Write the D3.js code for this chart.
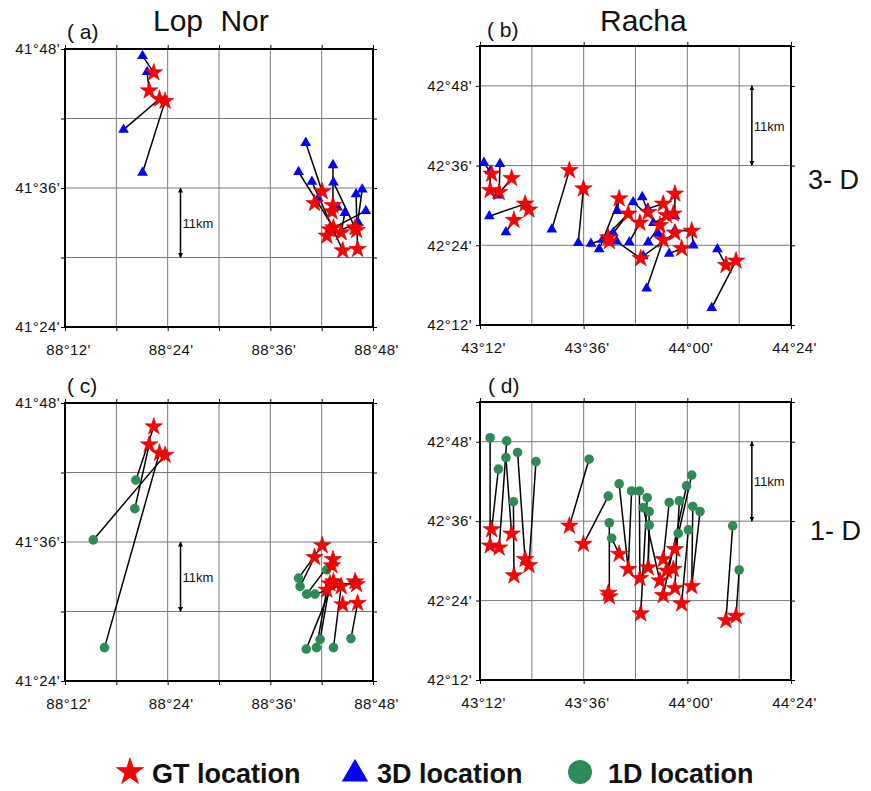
<!DOCTYPE html>
<html>
<head>
<meta charset="utf-8">
<script src="https://cdn.jsdelivr.net/npm/d3@7"></script>
<style>
  body { margin: 0; background: #fff; }
  svg { display: block; font-family: "Liberation Sans", Arial, sans-serif; }
</style>
</head>
<body>
<svg id="chart" width="871" height="791"></svg>
<script>
// ---------- Lop Nor (lon, lat in decimal degrees) ----------
const lopNorGT = [
  [88.373, 41.766], [88.364, 41.740], [88.384, 41.728], [88.395, 41.725],
  [88.701, 41.595], [88.686, 41.578], [88.722, 41.575], [88.720, 41.566],
  [88.723, 41.543], [88.710, 41.531], [88.738, 41.536], [88.765, 41.543],
  [88.768, 41.539], [88.741, 41.510], [88.770, 41.512], [88.716, 41.540]
];
// [lon, lat, index of matching GT event]
const lopNor3D = [
  [88.351, 41.790, 0], [88.360, 41.767, 1], [88.314, 41.684, 2], [88.351, 41.622, 3],
  [88.669, 41.665, 4], [88.722, 41.633, 6], [88.655, 41.623, 8], [88.681, 41.609, 13],
  [88.723, 41.608, 11], [88.693, 41.585, 5], [88.779, 41.598, 12], [88.767, 41.591, 14],
  [88.731, 41.572, 7], [88.745, 41.564, 10], [88.786, 41.567, 15], [88.771, 41.550, 9]
];
const lopNor1D = [
  [88.338, 41.689, 0], [88.336, 41.648, 1], [88.255, 41.603, 3], [88.277, 41.448, 2],
  [88.655, 41.548, 4], [88.658, 41.536, 5], [88.671, 41.525, 6], [88.687, 41.525, 11],
  [88.710, 41.560, 7], [88.729, 41.541, 12], [88.697, 41.460, 15], [88.690, 41.448, 9],
  [88.670, 41.446, 8], [88.723, 41.448, 10], [88.757, 41.461, 14]
];
const lopNorLonTicks = [88.2, 88.4, 88.6, 88.8];
const lopNorLatTicks = [41.4, 41.6, 41.8];
const lopNorLonGrid = [88.3, 88.4, 88.5, 88.6, 88.7];
const lopNorLatGrid = [41.5, 41.6, 41.7];
const lopNorBar = [88.425, 41.5, 41.6];   // lon, lat from, lat to

// ---------- Racha ----------
const rachaGT = [
  [43.245, 42.579], [43.239, 42.538], [43.274, 42.533], [43.322, 42.568],
  [43.374, 42.504], [43.389, 42.489], [43.331, 42.463], [43.545, 42.588],
  [43.599, 42.542], [43.737, 42.517], [43.699, 42.410], [43.772, 42.479],
  [43.817, 42.456], [43.820, 42.367], [43.849, 42.483], [43.907, 42.504],
  [43.952, 42.529], [43.920, 42.475], [43.894, 42.450], [43.946, 42.479],
  [43.907, 42.413], [43.978, 42.392], [44.017, 42.436], [44.149, 42.350],
  [44.188, 42.361], [43.952, 42.431], [43.695, 42.419]
];
const racha3D = [
  [43.215, 42.607, 0], [43.239, 42.586, 1], [43.277, 42.604, 2], [43.267, 42.525, 3],
  [43.236, 42.473, 4], [43.300, 42.433, 6], [43.380, 42.500, 5], [43.477, 42.440, 7],
  [43.579, 42.406, 8], [43.628, 42.404, 26], [43.660, 42.390, 9], [43.673, 42.414, 11],
  [43.714, 42.431, 11], [43.727, 42.410, 13], [43.730, 42.486, 9], [43.776, 42.408, 12],
  [43.791, 42.508, 18], [43.826, 42.521, 14], [43.847, 42.492, 15], [43.830, 42.373, 25],
  [43.849, 42.408, 17], [43.869, 42.456, 19], [43.888, 42.429, 20], [43.930, 42.379, 21],
  [43.952, 42.473, 16], [43.952, 42.438, 22], [44.023, 42.400, 22], [43.843, 42.292, 20],
  [44.116, 42.390, 23], [44.094, 42.243, 24]
];
const racha1D = [
  [43.239, 42.810, 1], [43.303, 42.802, 2], [43.271, 42.731, 0], [43.300, 42.760, 3],
  [43.345, 42.773, 4], [43.329, 42.649, 6], [43.416, 42.750, 5], [43.621, 42.756, 7],
  [43.695, 42.663, 8], [43.737, 42.694, 11], [43.699, 42.596, 10], [43.708, 42.557, 9],
  [43.785, 42.676, 11], [43.815, 42.676, 12], [43.845, 42.659, 13], [43.830, 42.634, 18],
  [43.853, 42.624, 14], [43.853, 42.590, 14], [43.930, 42.647, 15], [43.969, 42.651, 25],
  [43.997, 42.689, 20], [44.017, 42.716, 16], [44.021, 42.637, 22], [44.004, 42.578, 21],
  [43.965, 42.569, 17], [44.049, 42.624, 22], [44.175, 42.588, 23], [44.200, 42.477, 24]
];
const rachaLonTicks = [43.2, 43.6, 44.0, 44.4];
const rachaLatTicks = [42.2, 42.4, 42.6, 42.8];
const rachaLonGrid = [43.4, 43.6, 43.8, 44.0, 44.2];
const rachaLatGrid = [42.4, 42.6, 42.8];
const rachaBar = [44.249, 42.6, 42.8];

const legendItems = [
  { kind: "star", label: "GT location" },
  { kind: "tri", label: "3D location" },
  { kind: "dot", label: "1D location" }
];

// ---------- drawing ----------
const svg = d3.select("#chart");
const near = (a, b) => Math.abs(a - b) < 1e-6;
const fmtDM = v => {
  const d = Math.floor(v + 1e-6);
  const m = Math.round((v - d) * 60);
  return `${d}°${String(m).padStart(2, "0")}'`;
};

const COLORS = { star: "#ff0000", starEdge: "#c00000", tri: "#0000ff", dot: "#2e8b57" };
const symStar = s => d3.symbol(d3.symbolStar, s)();
const symTri = s => d3.symbol(d3.symbolTriangle, s)();

const defs = svg.append("defs");
defs.append("marker")
  .attr("id", "arrowHead")
  .attr("viewBox", "0 0 10 10").attr("refX", 9).attr("refY", 5)
  .attr("markerWidth", 5).attr("markerHeight", 9)
  .attr("markerUnits", "userSpaceOnUse")
  .attr("orient", "auto-start-reverse")
  .append("path").attr("d", "M0,0 L10,5 L0,10 Z").attr("fill", "#000");

const panels = [
  { tag: "( a)", tagX: 67, tagY: 39, box: [65, 373, 49, 327],
    lon: [88.2, 88.8], lat: [41.4, 41.8], lonTicks: lopNorLonTicks, latTicks: lopNorLatTicks,
    lonGrid: lopNorLonGrid, latGrid: lopNorLatGrid, tickAll: true,
    gt: lopNorGT, loc: lopNor3D, kind: "tri", bar: lopNorBar, labelPad: 1 },
  { tag: "( b)", tagX: 487, tagY: 37, box: [480, 791, 46, 325],
    lon: [43.2, 44.4], lat: [42.2, 42.9], lonTicks: rachaLonTicks, latTicks: rachaLatTicks,
    lonGrid: rachaLonGrid, latGrid: rachaLatGrid, tickAll: false,
    gt: rachaGT, loc: racha3D, kind: "tri", bar: rachaBar, labelPad: 4 },
  { tag: "( c)", tagX: 67, tagY: 393, box: [65, 373, 403, 681],
    lon: [88.2, 88.8], lat: [41.4, 41.8], lonTicks: lopNorLonTicks, latTicks: lopNorLatTicks,
    lonGrid: lopNorLonGrid, latGrid: lopNorLatGrid, tickAll: true,
    gt: lopNorGT, loc: lopNor1D, kind: "dot", bar: lopNorBar, labelPad: 1 },
  { tag: "( d)", tagX: 488, tagY: 393, box: [480, 791, 402, 680],
    lon: [43.2, 44.4], lat: [42.2, 42.9], lonTicks: rachaLonTicks, latTicks: rachaLatTicks,
    lonGrid: rachaLonGrid, latGrid: rachaLatGrid, tickAll: false,
    gt: rachaGT, loc: racha1D, kind: "dot", bar: rachaBar, labelPad: 4 }
];

panels.forEach(p => {
  const [x0, x1, y0, y1] = p.box;
  const x = d3.scaleLinear().domain(p.lon).range([x0, x1]);
  const y = d3.scaleLinear().domain(p.lat).range([y1, y0]);
  const g = svg.append("g");

  // grid
  g.append("g").selectAll("line").data(p.lonGrid).join("line")
    .attr("x1", d => x(d)).attr("x2", d => x(d)).attr("y1", y0).attr("y2", y1)
    .attr("stroke", "#7a7a7a").attr("stroke-width", 1);
  g.append("g").selectAll("line").data(p.latGrid).join("line")
    .attr("x1", x0).attr("x2", x1).attr("y1", d => y(d)).attr("y2", d => y(d))
    .attr("stroke", "#7a7a7a").attr("stroke-width", 1);

  // axes
  const xTickVals = p.tickAll ? [p.lon[0], ...p.lonGrid, p.lon[1]] : p.lonTicks;
  const yTickVals = [p.lat[0], ...p.latGrid, p.lat[1]];
  const lonLabel = v => p.lonTicks.some(t => near(t, v)) ? fmtDM(v) : "";
  const latLabel = v => p.latTicks.some(t => near(t, v)) ? fmtDM(v) : "";

  const styleAxis = sel => {
    sel.select(".domain").remove();
    sel.selectAll(".tick line").attr("stroke", "#000");
    sel.selectAll(".tick text").attr("fill", "#111").attr("font-size", 15)
      .attr("letter-spacing", "0.4px");
  };
  g.append("g").attr("transform", `translate(0,${y1})`)
    .call(d3.axisBottom(x).tickValues(xTickVals).tickSize(4).tickPadding(13).tickFormat(lonLabel))
    .call(styleAxis)
    .call(s => s.selectAll(".tick text").attr("dx", 3));
  g.append("g").attr("transform", `translate(0,${y0})`)
    .call(d3.axisTop(x).tickValues(xTickVals).tickSize(4).tickFormat(() => ""))
    .call(styleAxis);
  g.append("g").attr("transform", `translate(${x0},0)`)
    .call(d3.axisLeft(y).tickValues(yTickVals).tickSize(4).tickPadding(p.labelPad).tickFormat(latLabel))
    .call(styleAxis);
  g.append("g").attr("transform", `translate(${x1},0)`)
    .call(d3.axisRight(y).tickValues(yTickVals).tickSize(4).tickFormat(() => ""))
    .call(styleAxis);

  // frame
  g.append("rect").attr("x", x0).attr("y", y0).attr("width", x1 - x0).attr("height", y1 - y0)
    .attr("fill", "none").attr("stroke", "#000").attr("stroke-width", 2);

  // panel tag
  svg.append("text").attr("x", p.tagX).attr("y", p.tagY)
    .attr("font-size", 21).attr("fill", "#111").text(p.tag);

  // 11 km scale arrow
  g.append("line")
    .attr("x1", x(p.bar[0])).attr("x2", x(p.bar[0]))
    .attr("y1", y(p.bar[1])).attr("y2", y(p.bar[2]))
    .attr("stroke", "#000").attr("stroke-width", 1.5)
    .attr("marker-start", "url(#arrowHead)").attr("marker-end", "url(#arrowHead)");
  g.append("text").attr("x", x(p.bar[0]) + 2).attr("y", (y(p.bar[1]) + y(p.bar[2])) / 2 + 5)
    .attr("font-size", 13).attr("fill", "#111").text("11km");

  // mislocation vectors
  g.append("g").selectAll("line").data(p.loc).join("line")
    .attr("x1", d => x(d[0])).attr("y1", d => y(d[1]))
    .attr("x2", d => x(p.gt[d[2]][0])).attr("y2", d => y(p.gt[d[2]][1]))
    .attr("stroke", "#000").attr("stroke-width", 1.5);

  // located epicentres
  if (p.kind === "tri") {
    g.append("g").selectAll("path").data(p.loc).join("path")
      .attr("d", symTri(50))
      .attr("transform", d => `translate(${x(d[0])},${y(d[1])})`)
      .attr("fill", COLORS.tri);
  } else {
    g.append("g").selectAll("circle").data(p.loc).join("circle")
      .attr("cx", d => x(d[0])).attr("cy", d => y(d[1])).attr("r", 4.8)
      .attr("fill", COLORS.dot);
  }

  // ground-truth epicentres
  g.append("g").selectAll("path").data(p.gt).join("path")
    .attr("d", symStar(95))
    .attr("transform", d => `translate(${x(d[0])},${y(d[1])})`)
    .attr("fill", COLORS.star).attr("stroke", COLORS.starEdge).attr("stroke-width", 0.6);
});

// region titles and row labels
svg.append("text").attr("x", 153).attr("y", 31).attr("font-size", 30)
  .attr("word-spacing", "9px").attr("fill", "#111").text("Lop Nor");
svg.append("text").attr("x", 600).attr("y", 31).attr("font-size", 30)
  .attr("fill", "#111").text("Racha");
svg.append("text").attr("x", 808).attr("y", 189).attr("font-size", 27)
  .attr("fill", "#111").text("3- D");
svg.append("text").attr("x", 810).attr("y", 540).attr("font-size", 27)
  .attr("fill", "#111").text("1- D");

// legend
const legendX = [130, 355, 580];
const lg = svg.append("g");
legendItems.forEach((it, i) => {
  const cx = legendX[i], cy = 772;
  if (it.kind === "star") {
    lg.append("path").attr("d", symStar(230)).attr("transform", `translate(${cx},${cy})`)
      .attr("fill", COLORS.star).attr("stroke", COLORS.starEdge).attr("stroke-width", 0.6);
  } else if (it.kind === "tri") {
    lg.append("path").attr("d", symTri(300)).attr("transform", `translate(${cx},${cy + 2})`)
      .attr("fill", COLORS.tri);
  } else {
    lg.append("circle").attr("cx", cx).attr("cy", cy).attr("r", 12).attr("fill", COLORS.dot);
  }
  lg.append("text").attr("x", cx + (i === 2 ? 28 : 22)).attr("y", cy + 11)
    .attr("font-size", 27).attr("font-weight", "bold").attr("fill", "#111").text(it.label);
});
</script>
</body>
</html>
